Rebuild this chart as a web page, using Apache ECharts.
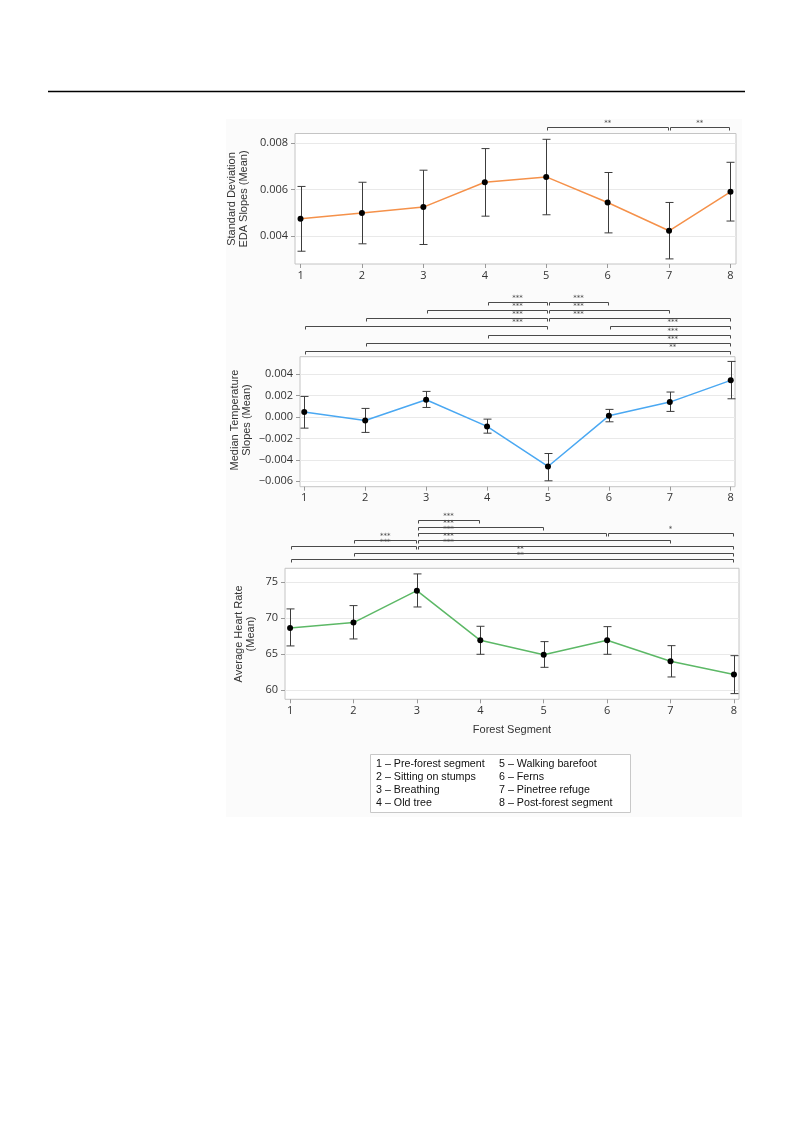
<!DOCTYPE html>
<html>
<head>
<meta charset="utf-8">
<script src="https://cdn.jsdelivr.net/npm/echarts@6/dist/echarts.min.js"></script>
<style>
  html, body { margin: 0; padding: 0; background: #ffffff; }
  #chart { width: 794px; height: 1123px; }
</style>
</head>
<body>
<div id="chart"></div>
<script>
// ---------- data ----------
const segments = [1, 2, 3, 4, 5, 6, 7, 8];
const segmentNames = [
  'Pre-forest segment', 'Sitting on stumps', 'Breathing', 'Old tree',
  'Walking barefoot', 'Ferns', 'Pinetree refuge', 'Post-forest segment'
];

const edaMean = [0.00475, 0.00500, 0.00525, 0.00632, 0.00655, 0.00545, 0.00423, 0.00591];
const edaLow  = [0.00335, 0.00367, 0.00364, 0.00486, 0.00492, 0.00414, 0.00302, 0.00465];
const edaHigh = [0.00614, 0.00632, 0.00684, 0.00777, 0.00817, 0.00674, 0.00545, 0.00718];

const tempMean = [0.00047, -0.00031, 0.00162, -0.00087, -0.00461, 0.00012, 0.00140, 0.00343];
const tempLow  = [-0.00103, -0.00143, 0.00090, -0.00150, -0.00595, -0.00044, 0.00053, 0.00171];
const tempHigh = [0.00193, 0.00081, 0.00240, -0.00019, -0.00340, 0.00072, 0.00234, 0.00520];

const hrMean = [68.66, 69.40, 73.84, 66.94, 64.95, 66.94, 64.03, 62.18];
const hrLow  = [66.16, 67.13, 71.57, 65.00, 63.19, 65.00, 61.85, 59.54];
const hrHigh = [71.30, 71.76, 76.16, 68.89, 66.76, 68.84, 66.20, 64.81];

const edaTicks  = [0.004, 0.006, 0.008];
const tempTicks = [-0.006, -0.004, -0.002, 0.000, 0.002, 0.004];
const hrTicks   = [60, 65, 70, 75];

// significance brackets: [from segment, to segment, row, label anchor (segment units), stars]
const edaBrackets = [
  [5, 7, 0, 6, '**'], [7, 8, 0, 7.5, '**']
];
const tempBrackets = [
  [4, 5, 0, 4.5, '***'], [5, 6, 0, 5.5, '***'],
  [3, 5, 1, 4.5, '***'], [5, 7, 1, 5.5, '***'],
  [2, 5, 2, 4.5, '***'], [5, 8, 2, 5.5, '***'],
  [1, 5, 3, 4.5, '***'], [6, 8, 3, 7.05, '***'],
  [4, 8, 4, 7.05, '***'],
  [2, 8, 5, 7.05, '***'],
  [1, 8, 6, 7.05, '**']
];
const hrBrackets = [
  [3, 4, 0, 3.5, '***'],
  [3, 5, 1, 3.5, '***'],
  [3, 6, 2, 3.5, '***'], [6, 8, 2, 7.0, '*'],
  [2, 3, 3, 2.5, '***'], [3, 7, 3, 3.5, '***'],
  [1, 3, 4, 2.5, '***'], [3, 8, 4, 3.5, '***'],
  [2, 8, 5, 4.63, '**'],
  [1, 8, 6, 4.63, '**']
];

// ---------- styling / layout ----------
const tickFont = 'Open Sans';
const titleFont = '"Liberation Sans", Arial, sans-serif';
const panels = [
  { left: 295, top: 133.5, width: 441, height: 130.5, xMin: 0.91, xMax: 8.09, yMin: 0.0028, yMax: 0.00842,
    ticks: edaTicks, fmt: v => v.toFixed(3), color: '#f5914a',
    mean: edaMean, low: edaLow, high: edaHigh,
    brackets: edaBrackets, bTop: 123.3, bSpacing: 8, bRows: 1,
    title: 'Standard Deviation\nEDA Slopes (Mean)', titleX: 238, titleY: 199 },
  { left: 300, top: 356.7, width: 435, height: 130, xMin: 0.93, xMax: 8.07, yMin: -0.0065, yMax: 0.00564,
    ticks: tempTicks, fmt: v => (v < 0 ? '\u2212' : '') + Math.abs(v).toFixed(3), color: '#4aa8f2',
    mean: tempMean, low: tempLow, high: tempHigh,
    brackets: tempBrackets, bTop: 298.3, bSpacing: 8.05, bRows: 7,
    title: 'Median Temperature\nSlopes (Mean)', titleX: 241, titleY: 420 },
  { left: 285, top: 568.3, width: 454, height: 131, xMin: 0.92, xMax: 8.08, yMin: 58.75, yMax: 76.94,
    ticks: hrTicks, fmt: v => String(v), color: '#5cb866',
    mean: hrMean, low: hrLow, high: hrHigh,
    brackets: hrBrackets, bTop: 516.7, bSpacing: 6.55, bRows: 7,
    title: 'Average Heart Rate\n(Mean)', titleX: 245, titleY: 634 }
];

const grid = [], xAxis = [], yAxis = [], series = [];

panels.forEach((p, i) => {
  grid.push({ left: p.left, top: p.top, width: p.width, height: p.height,
    show: true, borderColor: '#c4c4c4', borderWidth: 1, backgroundColor: '#ffffff' });
  xAxis.push({
    type: 'value', gridIndex: i, min: p.xMin, max: p.xMax,
    axisLine: { show: false, onZero: false },
    axisTick: { show: true, customValues: segments, length: 4, lineStyle: { color: '#9a9a9a' } },
    axisLabel: { customValues: segments, margin: 6, fontFamily: tickFont, fontSize: 11, color: '#333' },
    splitLine: { show: false },
    name: i === 2 ? 'Forest Segment' : '', nameLocation: 'middle', nameGap: 25,
    nameTextStyle: { fontFamily: titleFont, fontSize: 11, color: '#333' }
  });
  yAxis.push({
    type: 'value', gridIndex: i, min: p.yMin, max: p.yMax,
    axisLine: { show: false, onZero: false },
    axisTick: { show: true, customValues: p.ticks, length: 4, lineStyle: { color: '#9a9a9a' } },
    axisLabel: { customValues: p.ticks, margin: 7, fontFamily: tickFont, fontSize: 11, color: '#333',
      formatter: p.fmt },
    splitLine: { show: true, lineStyle: { color: '#e9e9e9', width: 1 } }
  });
});

panels.forEach((p, i) => {
  const gi = 3 + i;
  grid.push({ left: p.left, top: p.bTop, width: p.width, height: p.bRows * p.bSpacing, show: false });
  xAxis.push({ type: 'value', gridIndex: gi, min: p.xMin, max: p.xMax, show: false });
  yAxis.push({ type: 'value', gridIndex: gi, min: -0.5, max: p.bRows - 0.5, inverse: true, show: false });
});

panels.forEach((p, i) => {
  // error bars
  series.push({
    type: 'custom', xAxisIndex: i, yAxisIndex: i, z: 2, silent: true,
    data: segments.map((s, k) => [s, p.low[k], p.high[k]]),
    renderItem: (params, api) => {
      const lo = api.coord([api.value(0), api.value(1)]);
      const hi = api.coord([api.value(0), api.value(2)]);
      const x = Math.round(lo[0]) + 0.5;
      const cap = 4;
      const st = { stroke: '#3c3c3c', lineWidth: 1 };
      return { type: 'group', children: [
        { type: 'line', shape: { x1: x, y1: lo[1], x2: x, y2: hi[1] }, style: st },
        { type: 'line', shape: { x1: x - cap, y1: lo[1], x2: x + cap, y2: lo[1] }, style: st },
        { type: 'line', shape: { x1: x - cap, y1: hi[1], x2: x + cap, y2: hi[1] }, style: st }
      ] };
    }
  });
  // mean line
  series.push({
    type: 'line', xAxisIndex: i, yAxisIndex: i, z: 3, silent: true,
    data: segments.map((s, k) => [s, p.mean[k]]),
    symbol: 'circle', symbolSize: 6, showSymbol: true,
    lineStyle: { color: p.color, width: 1.5 },
    itemStyle: { color: '#000000', borderWidth: 0 }
  });
  // significance brackets
  const br = p.brackets;
  series.push({
    type: 'custom', xAxisIndex: 3 + i, yAxisIndex: 3 + i, z: 2, silent: true, clip: false,
    data: br.map(b => [b[0], b[1], b[2], b[3]]),
    renderItem: (params, api) => {
      const b = br[params.dataIndex];
      const a = api.coord([b[0], b[2]]);
      const c = api.coord([b[1], b[2]]);
      const l = api.coord([b[3], b[2]]);
      const y = Math.round(a[1]) + 0.5;
      const x1 = Math.round(a[0]) + 1.5, x2 = Math.round(c[0]) - 0.5;
      return { type: 'group', children: [
        { type: 'polyline', shape: { points: [[x1, y + 3], [x1, y], [x2, y], [x2, y + 3]] },
          style: { stroke: '#4a4a4a', lineWidth: 1, fill: null } },
        { type: 'text', x: l[0], y: y - 0.5,
          style: { text: b[4], align: 'center', verticalAlign: 'bottom',
            fontFamily: 'DejaVu Sans', fontSize: 7, fill: '#444' } }
      ] };
    }
  });
});

// graphic: page rule, faint backdrop, axis titles, legend
const graphic = [
  { type: 'rect', z: -10, shape: { x: 226, y: 119, width: 516, height: 698 }, style: { fill: '#fbfbfb' } },
  { type: 'line', shape: { x1: 48, y1: 91.5, x2: 745, y2: 91.5 }, style: { stroke: '#000', lineWidth: 1.3 } }
];
panels.forEach(p => {
  graphic.push({ type: 'text', x: p.titleX, y: p.titleY, rotation: Math.PI / 2,
    style: { text: p.title, align: 'center', verticalAlign: 'middle', lineHeight: 12,
      fontFamily: titleFont, fontSize: 11, fill: '#333' } });
});
graphic.push({ type: 'rect', shape: { x: 370.5, y: 754.5, width: 260, height: 58 },
  style: { fill: '#ffffff', stroke: '#c8c8c8', lineWidth: 1 } });
segments.forEach((s, k) => {
  const col = k < 4 ? 0 : 1, row = k % 4;
  graphic.push({ type: 'text', x: col === 0 ? 376 : 499, y: 764.5 + row * 12.9,
    style: { text: s + ' \u2013 ' + segmentNames[k], align: 'left', verticalAlign: 'middle',
      fontFamily: titleFont, fontSize: 10.7, fill: '#111' } });
});

const chart = echarts.init(document.getElementById('chart'), null, { renderer: 'canvas' });
chart.setOption({
  animation: false,
  backgroundColor: '#ffffff',
  grid, xAxis, yAxis, series, graphic
});
</script>
</body>
</html>
